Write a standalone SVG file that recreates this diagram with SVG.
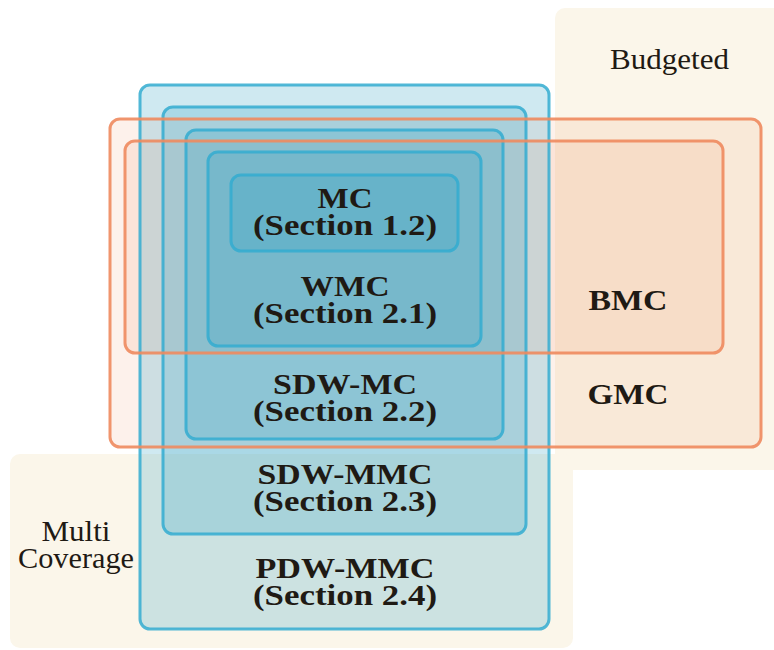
<svg xmlns="http://www.w3.org/2000/svg" width="774" height="650" viewBox="0 0 774 650">
<style>
.bg{fill:#FBF6EA;stroke:none}
.of{fill:#F08C5A;fill-opacity:0.12;stroke:none}
.os{fill:none;stroke:#EE8A5E;stroke-opacity:0.9;stroke-width:3}
.b{fill:#37A5C6;fill-opacity:0.24;stroke:#33ABD0;stroke-opacity:0.85;stroke-width:3}
.t{font-family:"Liberation Serif","Times New Roman",serif;font-size:29px;fill:#1F1A14;text-anchor:middle}
.bd{font-weight:bold}
</style>
<rect width="774" height="650" fill="#FFFFFF"/>
<g id="budgeted">
<rect class="bg" x="555" y="8" width="240" height="462" rx="10"/>
<text class="t" x="669.5" y="69" textLength="119" lengthAdjust="spacingAndGlyphs">Budgeted</text>
</g>
<g id="multi-coverage">
<rect class="bg" x="10" y="454" width="563" height="194" rx="10"/>
<text class="t" x="76" y="541" textLength="69" lengthAdjust="spacingAndGlyphs">Multi</text>
<text class="t" x="76" y="568" textLength="116" lengthAdjust="spacingAndGlyphs">Coverage</text>
</g>
<g id="gmc">
<rect class="of" x="110" y="119" width="651" height="328" rx="10"/>
<text class="t bd" x="628" y="404" textLength="81" lengthAdjust="spacingAndGlyphs">GMC</text>
</g>
<g id="bmc">
<rect class="of" x="125" y="141" width="598" height="212" rx="10"/>
<text class="t bd" x="628" y="310" textLength="79" lengthAdjust="spacingAndGlyphs">BMC</text>
</g>
<g id="pdw-mmc">
<rect class="b" x="140" y="85" width="409" height="544" rx="10"/>
<text class="t bd" x="345" y="578" textLength="179" lengthAdjust="spacingAndGlyphs">PDW-MMC</text>
<text class="t bd" x="345" y="605" textLength="184" lengthAdjust="spacingAndGlyphs">(Section 2.4)</text>
</g>
<g id="sdw-mmc">
<rect class="b" x="163" y="107" width="363" height="427" rx="10"/>
<text class="t bd" x="345" y="484" textLength="175" lengthAdjust="spacingAndGlyphs">SDW-MMC</text>
<text class="t bd" x="345" y="511" textLength="184" lengthAdjust="spacingAndGlyphs">(Section 2.3)</text>
</g>
<g id="sdw-mc">
<rect class="b" x="186" y="130" width="317" height="309" rx="10"/>
<text class="t bd" x="345" y="394" textLength="144" lengthAdjust="spacingAndGlyphs">SDW-MC</text>
<text class="t bd" x="345" y="421" textLength="184" lengthAdjust="spacingAndGlyphs">(Section 2.2)</text>
</g>
<g id="wmc">
<rect class="b" x="208" y="152" width="273" height="194" rx="10"/>
<text class="t bd" x="345" y="296" textLength="89" lengthAdjust="spacingAndGlyphs">WMC</text>
<text class="t bd" x="345" y="323" textLength="184" lengthAdjust="spacingAndGlyphs">(Section 2.1)</text>
</g>
<g id="mc">
<rect class="b" x="231" y="175" width="227" height="76" rx="10"/>
<text class="t bd" x="345" y="208" textLength="55" lengthAdjust="spacingAndGlyphs">MC</text>
<text class="t bd" x="345" y="235" textLength="184" lengthAdjust="spacingAndGlyphs">(Section 1.2)</text>
</g>
<g id="gmc-outline">
<rect class="os" x="110" y="119" width="651" height="328" rx="10"/>
</g>
<g id="bmc-outline">
<rect class="os" x="125" y="141" width="598" height="212" rx="10"/>
</g>
<g id="connectors"></g>
</svg>
